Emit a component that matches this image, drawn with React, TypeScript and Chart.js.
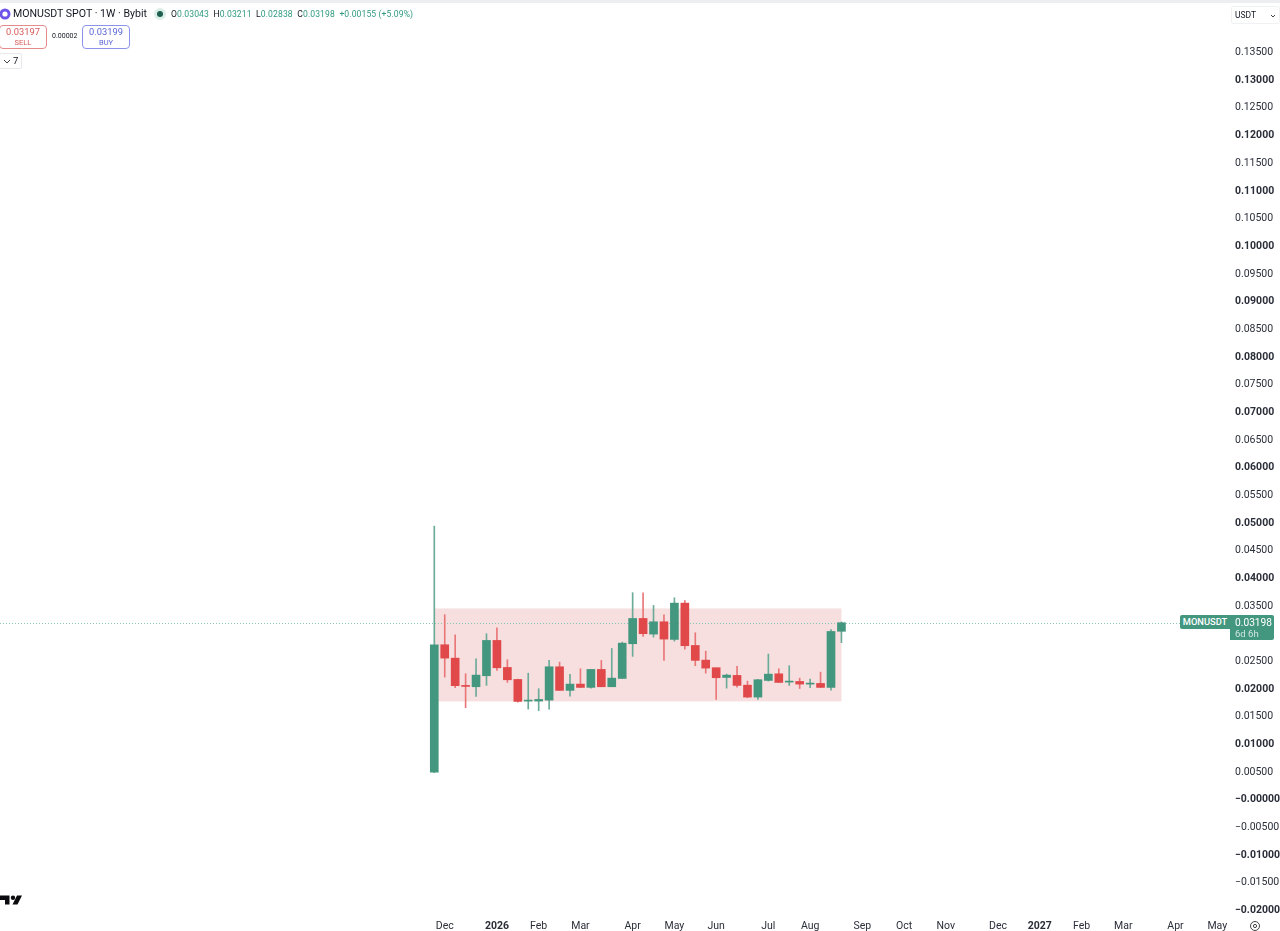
import React, { useEffect, useRef } from "react";
import { Chart, registerables } from "chart.js";

Chart.register(...registerables);

const GREEN = "#44977f";
const RED = "#e0484a";
const TEXT = "#131722";
const FONT = "Roboto, sans-serif";

const opens = [0.00499,0.0280,0.02558,0.02065,0.02041,0.0224,0.02878,0.0239,0.02173,0.01782,0.01782,0.01799,0.02402,0.01975,0.02089,0.02029,0.02354,0.02041,0.02191,0.02818,0.03275,0.02992,0.03215,0.02896,0.03552,0.02787,0.02522,0.02385,0.02209,0.02246,0.0207,0.01854,0.02155,0.02275,0.02125,0.02137,0.02089,0.02101,0.02029,0.03043];
const closes = [0.0280,0.02558,0.0206,0.02047,0.02251,0.02878,0.02384,0.02167,0.01776,0.01794,0.01812,0.02402,0.01975,0.02089,0.02029,0.02354,0.02041,0.02197,0.02829,0.03275,0.02999,0.03215,0.02902,0.03552,0.02782,0.02517,0.02378,0.02204,0.02251,0.02065,0.01854,0.02168,0.02269,0.02119,0.02143,0.02089,0.02101,0.02029,0.0304,0.03198];
const highs = [0.04943,0.03342,0.0298,0.02276,0.02547,0.02999,0.03107,0.02529,0.02178,0.02287,0.02005,0.02517,0.02486,0.02264,0.02366,0.02354,0.02517,0.02733,0.02847,0.0374,0.0374,0.0351,0.03342,0.03649,0.036,0.03017,0.02685,0.02385,0.0227,0.02408,0.02143,0.02174,0.02631,0.02366,0.02421,0.02197,0.02179,0.02305,0.03076,0.03211];
const lows = [0.0049,0.02215,0.02023,0.01662,0.01866,0.02065,0.02336,0.02119,0.01763,0.01637,0.01608,0.01637,0.01975,0.01872,0.02029,0.02017,0.02041,0.02041,0.02191,0.02589,0.0295,0.02938,0.02517,0.02865,0.02721,0.02421,0.02287,0.01812,0.02016,0.02034,0.01842,0.01812,0.02143,0.02119,0.02065,0.0201,0.02023,0.02029,0.0198,0.02838];

const monthIndexes = [1,6,10,14,19,23,27,32,36,41,45,49,54,58,62,66,71,75];
const monthLabels = ["Dec","2026","Feb","Mar","Apr","May","Jun","Jul","Aug","Sep","Oct","Nov","Dec","2027","Feb","Mar","Apr","May"];

const priceTicks = [0.135,0.13,0.125,0.12,0.115,0.11,0.105,0.1,0.095,0.09,0.085,0.08,0.075,0.07,0.065,0.06,0.055,0.05,0.045,0.04,0.035,0.03,0.025,0.02,0.015,0.01,0.005,0,-0.005,-0.01,-0.015,-0.02];
const boldPriceTicks = [0.13,0.12,0.11,0.1,0.09,0.08,0.07,0.06,0.05,0.04,0.03,0.02,0.01,0,-0.01,-0.02];

const rangeWeeks = [0, 39];
const rangePrices = [0.01776, 0.03456];
const lastPrice = 0.03198;

const isClose = (a: number, b: number) => Math.abs(a - b) < 1e-6;
const fmtPrice = (v: number) => (v <= 0 ? "\u2212" : "") + Math.abs(v).toFixed(5);

const noPadding = (axis: any) => {
  axis.paddingTop = 0;
  axis.paddingBottom = 0;
  axis.paddingLeft = 0;
  axis.paddingRight = 0;
};

const backdrop = {
  id: "backdrop",
  beforeDatasetsDraw(chart: any) {
    const { ctx, scales } = chart;
    const x0 = scales.x.getPixelForValue(rangeWeeks[0]);
    const x1 = scales.x.getPixelForValue(rangeWeeks[1]);
    const y0 = scales.y.getPixelForValue(rangePrices[1]);
    const y1 = scales.y.getPixelForValue(rangePrices[0]);
    ctx.save();
    ctx.fillStyle = "#f7dfdf";
    ctx.fillRect(x0, y0, x1 - x0, y1 - y0);
    const py = Math.round(scales.y.getPixelForValue(lastPrice)) + 0.5;
    ctx.strokeStyle = "#8cc4b6";
    ctx.lineWidth = 1;
    ctx.setLineDash([1, 2]);
    ctx.beginPath();
    ctx.moveTo(0, py);
    ctx.lineTo(chart.chartArea.right, py);
    ctx.stroke();
    ctx.restore();
  },
};

const abs = (s: React.CSSProperties): React.CSSProperties => ({ position: "absolute", whiteSpace: "nowrap", ...s });

export default function App() {
  const ref = useRef<HTMLCanvasElement>(null);
  useEffect(() => {
    document.body.style.margin = "0";
    const colors = closes.map((c, i) => (c >= opens[i] ? GREEN : RED));
    const wickColors = closes.map((c, i) => (c >= opens[i] ? "#6aab9a" : "#ea7778"));
    const chart = new Chart(ref.current!, {
      type: "bar",
      data: {
        datasets: [
          {
            label: "Wick",
            data: highs.map((h, i) => ({ x: i, y: [lows[i], h] })) as any,
            backgroundColor: wickColors,
            barThickness: 1,
            grouped: false,
            order: 2,
          } as any,
          {
            label: "Body",
            data: opens.map((o, i) => ({ x: i, y: [o, closes[i]] })) as any,
            backgroundColor: colors,
            barThickness: 8,
            minBarLength: 1,
            grouped: false,
            order: 1,
          } as any,
        ],
      },
      options: {
        animation: false,
        responsive: false,
        maintainAspectRatio: false,
        layout: { padding: 0 },
        plugins: { legend: { display: false }, tooltip: { enabled: false } },
        scales: {
          x: {
            type: "linear",
            offset: false,
            min: -41.6,
            max: 76.22,
            grid: { display: false, drawTicks: false },
            border: { display: false },
            afterBuildTicks: (axis: any) => {
              axis.ticks = monthIndexes.map((value) => ({ value }));
            },
            afterFit: (axis: any) => {
              axis.height = 15;
              noPadding(axis);
            },
            ticks: {
              autoSkip: false,
              maxRotation: 0,
              padding: 4,
              color: "#2a2e39",
              callback: (v: any) => monthLabels[monthIndexes.indexOf(Number(v))] ?? "",
              font: (c: any) => {
                const l = monthLabels[monthIndexes.indexOf(c.tick?.value)];
                return { family: FONT, size: 10.5, weight: l && l.startsWith("20") ? "bold" : "normal" };
              },
            },
          },
          y: {
            type: "linear",
            position: "right",
            min: -0.02101,
            max: 0.14449,
            grid: { display: false, drawTicks: false },
            border: { display: false },
            afterBuildTicks: (axis: any) => {
              axis.ticks = priceTicks.map((value) => ({ value }));
            },
            afterFit: (axis: any) => {
              axis.width = 50;
              noPadding(axis);
            },
            ticks: {
              autoSkip: false,
              crossAlign: "near",
              padding: 5,
              color: "#2a2e39",
              callback: (v: any) => fmtPrice(Number(v)),
              font: (c: any) => ({
                family: FONT,
                size: 10.5,
                weight: boldPriceTicks.some((b) => isClose(b, c.tick?.value)) ? "bold" : "normal",
              }),
            },
          },
        },
      } as any,
      plugins: [backdrop],
    });
    return () => chart.destroy();
  }, []);

  const small = { fontFamily: FONT, color: TEXT } as React.CSSProperties;
  const green = { color: "#2f9a80" };
  return (
    <div style={{ position: "fixed", left: 0, top: 0, width: 1280, height: 931, background: "#fff", overflow: "hidden", ...small }}>
      <canvas ref={ref} width={1280} height={931} style={{ position: "absolute", left: 0, top: 0, width: 1280, height: 931 }} />
      <div style={abs({ left: 0, top: 0, width: 1280, height: 3, background: "#eceef1" })} />

      <svg width="12" height="12" style={abs({ left: 0, top: 8 })}>
        <circle cx="5" cy="6" r="5.5" fill="#6e54e8" />
        <circle cx="5" cy="6" r="2.6" fill="#fff" />
      </svg>
      <div style={abs({ left: 13, top: 7, fontSize: 10.6, lineHeight: "14px" })}>MONUSDT SPOT · 1W · Bybit</div>
      <svg width="14" height="14" style={abs({ left: 153, top: 7 })}>
        <circle cx="7" cy="7" r="6" fill="#dcefe9" />
        <circle cx="7" cy="7" r="3" fill="#1f5f50" />
      </svg>
      <div style={abs({ left: 171, top: 8, fontSize: 8.6, lineHeight: "12px", letterSpacing: 0.1 })}>
        O<span style={green}>0.03043</span>&nbsp; H<span style={green}>0.03211</span>&nbsp; L<span style={green}>0.02838</span>&nbsp; C
        <span style={green}>0.03198</span>&nbsp; <span style={green}>+0.00155 (+5.09%)</span>
      </div>

      <div style={abs({ left: -1, top: 25, width: 46, height: 22, border: "1px solid #e58a8a", borderRadius: 4, textAlign: "center", color: "#d9595a", background: "#fff" })}>
        <div style={{ fontSize: 9.3, lineHeight: "12px" }}>0.03197</div>
        <div style={{ fontSize: 7.5, lineHeight: "9px" }}>SELL</div>
      </div>
      <div style={abs({ left: 52, top: 31, fontSize: 7, lineHeight: "10px" })}>0.00002</div>
      <div style={abs({ left: 82, top: 25, width: 46, height: 22, border: "1px solid #8b93ea", borderRadius: 4, textAlign: "center", color: "#5b66d8", background: "#fff" })}>
        <div style={{ fontSize: 9.3, lineHeight: "12px" }}>0.03199</div>
        <div style={{ fontSize: 7.5, lineHeight: "9px" }}>BUY</div>
      </div>
      <div style={abs({ left: -1, top: 53, width: 21, height: 14, border: "1px solid #e6e8ec", borderRadius: 2, background: "#fff", fontSize: 9.5, lineHeight: "14px" })}>
        <svg width="8" height="6" style={{ position: "absolute", left: 3, top: 5 }}>
          <path d="M1 1 L4 4 L7 1" fill="none" stroke="#444" strokeWidth="1" />
        </svg>
        <span style={{ position: "absolute", left: 13, top: 0 }}>7</span>
      </div>

      <div style={abs({ left: 1231, top: 6, width: 47, height: 16, border: "1px solid #f0f1f3", borderRadius: 2, fontSize: 8.5, lineHeight: "16px" })}>
        <span style={{ position: "absolute", left: 3, top: 0 }}>USDT</span>
        <svg width="6" height="5" style={{ position: "absolute", left: 38, top: 7 }}>
          <path d="M1 1 L3 3 L5 1" fill="none" stroke="#444" strokeWidth="1" />
        </svg>
      </div>

      <div style={abs({ left: 1180, top: 615, width: 50, height: 14, background: "#44977f", color: "#fff", borderRadius: "2px 0 0 2px", fontSize: 9.3, lineHeight: "14px", textAlign: "center", fontWeight: 500 })}>MONUSDT</div>
      <div style={abs({ left: 1230, top: 615, width: 44, height: 25, background: "#44977f", color: "#fff", borderRadius: "0 2px 2px 0", fontSize: 10.2 })}>
        <div style={{ position: "absolute", left: 5, top: 1, lineHeight: "13px" }}>0.03198</div>
        <div style={{ position: "absolute", left: 5, top: 13, lineHeight: "11px", color: "#cfe6df", fontSize: 9.5 }}>6d 6h</div>
      </div>

      <svg width="24" height="12" viewBox="0 0 24 12" style={abs({ left: 0, top: 894 })}>
        <path d="M0 1.5 H9.5 V10.5 H5 V6 H0 Z" fill="#0a0a0f" />
        <circle cx="13" cy="3.7" r="2.2" fill="#0a0a0f" />
        <path d="M17 1.5 H22 L17.5 10.5 H12.5 Z" fill="#0a0a0f" />
      </svg>

      <svg width="12" height="12" style={abs({ left: 1249, top: 920 })}>
        <circle cx="6" cy="6" r="4.5" fill="none" stroke="#444" strokeWidth="1" />
        <circle cx="6" cy="6" r="1.6" fill="none" stroke="#444" strokeWidth="1" />
      </svg>
    </div>
  );
}
